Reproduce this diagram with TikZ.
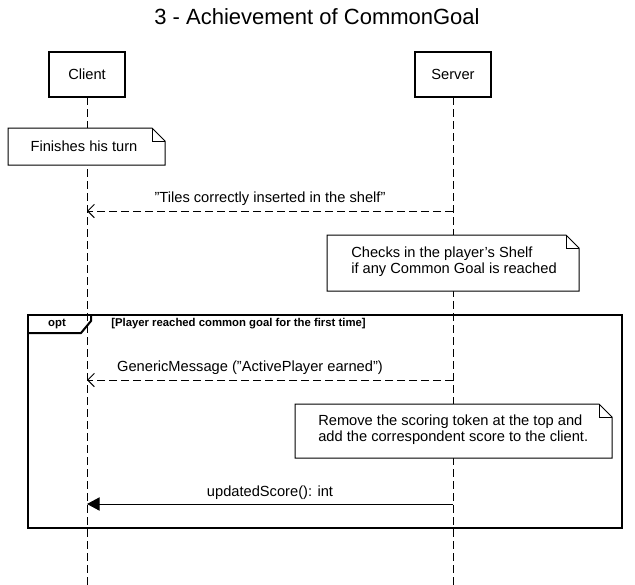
\documentclass[tikz,border=0pt]{standalone}
\usepackage{fontspec}
\setmainfont{Liberation Sans}
\usetikzlibrary{positioning,arrows.meta,calc}
\definecolor{ink}{HTML}{000000}
\definecolor{paper}{HTML}{FFFFFF}

\tikzset{
  lifeline/.style={ink,line width=0.75pt,dash pattern=on 6pt off 3pt},
  actorbox/.style={draw=ink,fill=paper,line width=1.5pt},
  notebox/.style={draw=ink,fill=paper,line width=0.75pt},
  reply/.style={ink,line width=0.75pt,dash pattern=on 6pt off 3pt,-{Straight Barb[length=5pt,width=10pt]}},
  call/.style={ink,line width=0.75pt,-{Triangle[length=9.5pt,width=10pt]}},
  msg/.style={font=\fontsize{11}{13}\selectfont,inner sep=0pt},
  notetext/.style={font=\fontsize{11}{12}\selectfont,align=left,inner sep=0pt}
}

\begin{document}
\begin{tikzpicture}[x=0.75pt,y=-0.75pt]
  \useasboundingbox[fill=paper] (0,0) rectangle (635,585);
  \node[font=\fontsize{16.5}{19}\selectfont] (title) at (317,17){3 - Achievement of CommonGoal};
  % lifelines
  \coordinate (cTop) at (87,97);  \coordinate (cEnd) at (87,585);
  \coordinate (sTop) at (453,97); \coordinate (sEnd) at (453,585);
  \draw[lifeline] (cTop) -- (cEnd);
  \draw[lifeline] (sTop) -- (sEnd);
  \draw[actorbox] (49,52) rectangle (125,97);
  \node[msg] (client) at (87,74.5){Client};
  \draw[actorbox] (415,52) rectangle (491,97);
  \node[msg] (server) at (453,74.5){Server};
  % note: client
  \draw[notebox] (8,128) -- (152,128) -- (165,141) -- (165,165) -- (8,165) -- cycle;
  \draw[ink,line width=0.75pt] (152,128) -- (152,141) -- (165,141);
  \node[msg] (turn) at (84,146){Finishes his turn};
  % tiles reply
  \coordinate (s1) at (453,211); \coordinate (c1) at (87,211);
  \draw[reply] (s1) -- (c1);
  \node[msg] (tiles) at (270,199){\symbol{34}Tiles correctly inserted in the shelf\symbol{34}};
  % note: server check
  \draw[notebox] (327,235) -- (566,235) -- (579,248) -- (579,291) -- (327,291) -- cycle;
  \draw[ink,line width=0.75pt] (566,235) -- (566,248) -- (579,248);
  \node[notetext,anchor=north west] (check) at (351,247){Checks in the player\symbol{39}s Shelf\\if any Common Goal is reached};
  % opt fragment
  \draw[ink,line width=1.5pt] (28,315) rectangle (622,528);
  \draw[ink,line width=1.5pt] (91,315) -- (91,321) -- (81,333) -- (28,333);
  \node[font=\bfseries\fontsize{8.5}{10}\selectfont,inner sep=0pt] (opt) at (57,324){opt};
  \node[font=\bfseries\fontsize{8.5}{10}\selectfont,inner sep=0pt,anchor=west] (guard) at (111,324){[Player reached common goal for the first time]};
  % generic message reply
  \coordinate (s2) at (453,380); \coordinate (c2) at (87,380);
  \draw[reply] (s2) -- (c2);
  \node[msg] (generic) at (250,368){GenericMessage (\symbol{34}ActivePlayer earned\symbol{34})};
  % note: scoring token
  \draw[notebox] (295,404) -- (599,404) -- (612,417) -- (612,458) -- (295,458) -- cycle;
  \draw[ink,line width=0.75pt] (599,404) -- (599,417) -- (612,417);
  \node[notetext,anchor=north west] (token) at (318,415){Remove the scoring token at the top and\\add the correspondent score to the client.};
  % updated score call
  \coordinate (s3) at (453,504); \coordinate (c3) at (87,504);
  \draw[call] (s3) -- (c3);
  \node[msg] (score) at (270,493){updatedScore(): int};
\end{tikzpicture}
\end{document}
